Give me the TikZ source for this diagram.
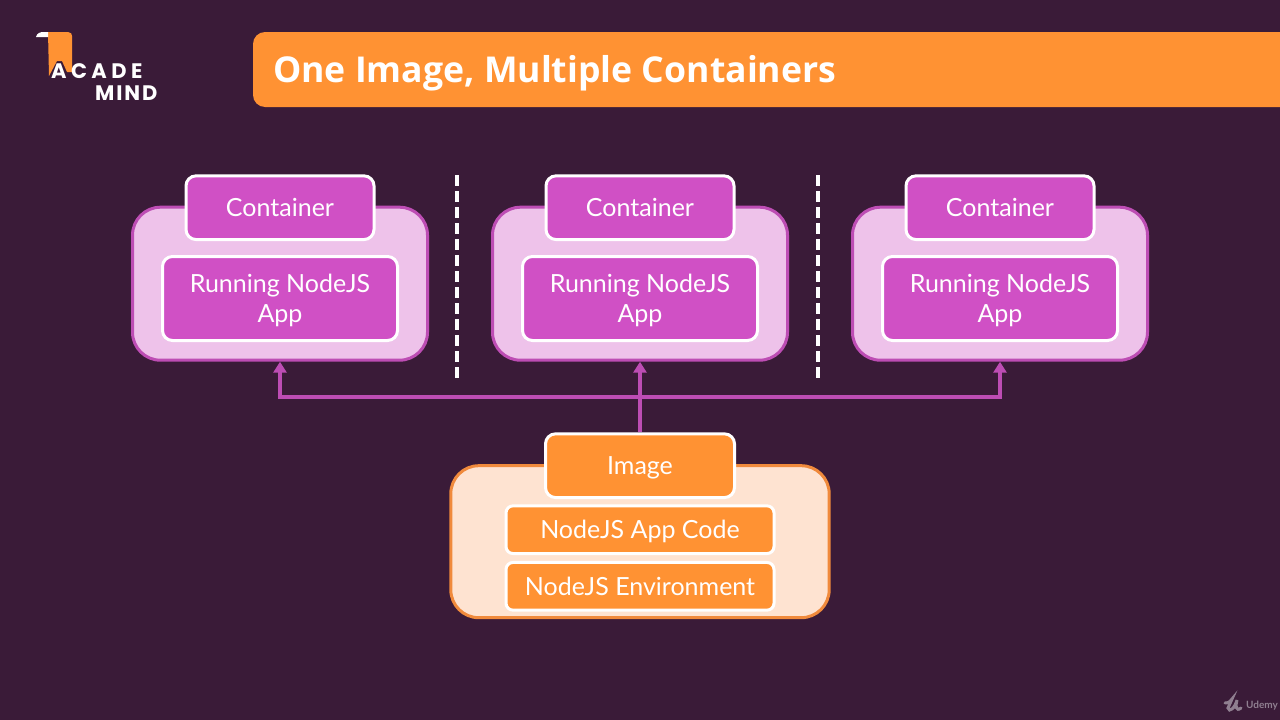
\documentclass[tikz,border=0pt]{standalone}
\usepackage{fontspec}
\setmainfont{Lato}
\newfontfamily\titlefont{Open Sans}
\newfontfamily\logofont[LetterSpace=21]{Poppins}
\newfontfamily\logofontb[LetterSpace=9]{Poppins}
\usetikzlibrary{arrows.meta}
\definecolor{bgdark}{HTML}{3A1B38}
\definecolor{mainorange}{HTML}{FF9233}
\definecolor{edgeorange}{HTML}{F08A3C}
\definecolor{paleorange}{HTML}{FEE3D1}
\definecolor{mainpurple}{HTML}{D050C5}
\definecolor{edgepurple}{HTML}{BD4DB4}
\definecolor{palepurple}{HTML}{EEC2EA}
\definecolor{markgrey}{HTML}{8F7F90}
\tikzset{
  tag/.style={draw=white,line width=3pt,text=white,rounded corners=10pt,font=\fontsize{25}{30}\selectfont,align=center,inner sep=0pt},
  conttag/.style={tag,fill=mainpurple,minimum width=188pt,minimum height=63.7pt,text height=22pt,text depth=4pt},
  apptag/.style={tag,fill=mainpurple,minimum width=235pt,minimum height=84pt},
  imgtag/.style={tag,fill=mainorange,minimum width=189pt,minimum height=63.7pt,text height=22pt,text depth=4pt},
  layertag/.style={tag,fill=mainorange,rounded corners=7pt,minimum width=268pt,minimum height=47.7pt,text height=22pt,text depth=4pt},
  contbox/.style={draw=edgepurple,fill=palepurple,line width=3pt,rounded corners=28pt,minimum width=295pt,minimum height=153pt,inner sep=0pt},
  imgbox/.style={draw=edgeorange,fill=paleorange,line width=3pt,rounded corners=28pt,minimum width=378.4pt,minimum height=152pt,inner sep=0pt},
  link/.style={draw=edgepurple,line width=4pt,-{Triangle[length=11pt,width=13pt]}},
  divider/.style={draw=white,line width=4pt,dash pattern=on 11pt off 5pt},
  logotext/.style={anchor=west,text=white,inner sep=0pt}
}
\begin{document}
\begin{tikzpicture}[x=1pt,y=-1pt]
  \useasboundingbox[fill=bgdark] (0,0) rectangle (1280,720);
  % title bar
  \node[fill=mainorange,rounded corners=12pt,minimum width=1040pt,minimum height=75pt,inner sep=0pt] (titlebar) at (773,69.5) {};
  \node[anchor=west,text=white,font=\titlefont\bfseries\fontsize{35.6}{40}\selectfont,inner sep=0pt] (titletext) at (273,73) {One Image, Multiple Containers};
  % logo
  \fill[mainorange] (48,32) -- (68,32) .. controls (71,32) and (72,34) .. (72,36) -- (72,72) -- (67,72) -- (62,61) -- (57,61) -- (49,76) -- cycle;
  \fill[white] (36,37) .. controls (37,33) and (40,32) .. (44,32) -- (48,32) -- (48,37) -- cycle;
  \node[logotext,font=\logofont\bfseries\fontsize{21}{22}\selectfont] (logoa) at (51,71.5) {ACADE};
  \node[logotext,font=\logofontb\bfseries\fontsize{21}{22}\selectfont] (logob) at (95,93.5) {MIND};
  % containers
  \foreach \x/\name in {280/a,640/b,1000/c} {
    \node[contbox] (box\name) at (\x,283.7) {};
    \node[conttag] (cont\name) at (\x,207.7) {Container};
    \node[apptag] (app\name) at (\x,298.5) {\rule{0pt}{22pt}Running NodeJS\\App};
  }
  % dividers
  \foreach \x/\name in {457.3/a,818/b} {
    \coordinate (divtop\name) at (\x,175);
    \coordinate (divend\name) at (\x,379);
    \draw[divider] (divtop\name) -- (divend\name);
  }
  % image
  \node[imgbox] (imgouter) at (640,541.7) {};
  \node[imgtag] (image) at (640,465.7) {Image};
  \node[layertag] (code) at (640,529.7) {NodeJS App Code};
  \node[layertag] (env) at (640,586.3) {NodeJS Environment};
  % links
  \coordinate (fork) at (640,396.5);
  \draw[link,-] (image.north) -- (fork);
  \draw[link] (fork) -- (boxb.south);
  \draw[link] (fork) -| (boxa.south);
  \draw[link] (fork) -| (boxc.south);
  % corner mark
  \node[anchor=west,text=markgrey,font=\fontsize{10}{12}\selectfont\bfseries,inner sep=0pt] (marktext) at (1246,706) {Udemy};
  \draw[markgrey,line width=3pt,line cap=round] (1225,703) .. controls (1229,703) and (1231,701) .. (1232,699) -- (1228,708) .. controls (1229,713) and (1235,708) .. (1237,700) .. controls (1235,706) and (1236,712) .. (1241,708);
\end{tikzpicture}
\end{document}
